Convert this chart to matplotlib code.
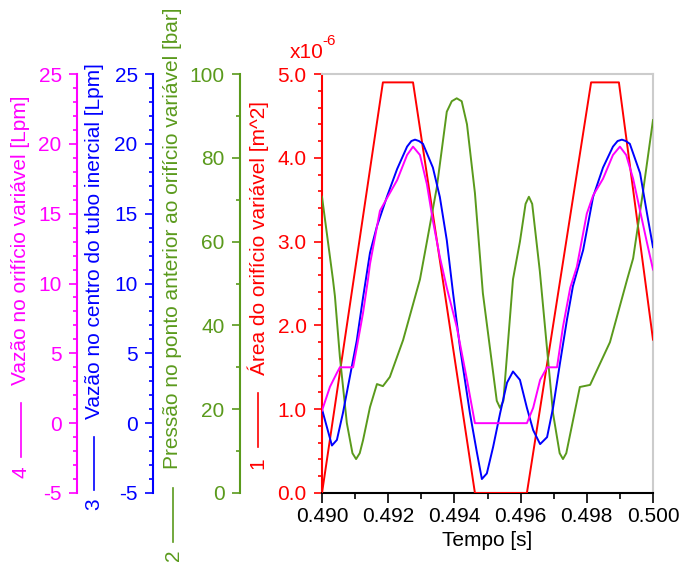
import matplotlib
matplotlib.use("Agg")
import matplotlib.pyplot as plt
from matplotlib.lines import Line2D
from matplotlib.ticker import MultipleLocator, FormatStrFormatter

plt.rcParams['font.family'] = ['Liberation Sans', 'DejaVu Sans']

# ---- data ----
t_area = [0.4900, 0.49184, 0.49275, 0.49462, 0.49619, 0.49813, 0.49897, 0.5000]
area = [0.0, 4.9, 4.9, 0.0, 0.0, 4.9, 4.9, 1.83]  # x1e-6 m^2

t_press = [0.4900, 0.49033, 0.49039, 0.49054, 0.49075, 0.49092, 0.49103, 0.49114,
           0.49124, 0.49145, 0.49166, 0.49184, 0.49205, 0.49245, 0.49296, 0.49317,
           0.49347, 0.49377, 0.49392, 0.49407, 0.49422, 0.49438, 0.49462, 0.49486,
           0.49528, 0.49538, 0.49548, 0.49577, 0.49598, 0.49615, 0.49625, 0.49635,
           0.49658, 0.49698, 0.49718, 0.49728, 0.49738, 0.49779, 0.49810, 0.49870,
           0.49922, 0.49940, 0.49970, 0.5000]
press = [70.7, 51.0, 47.0, 32.5, 16.7, 9.5, 8.1, 9.5,
         12.6, 20.5, 26.0, 25.5, 27.7, 36.5, 51.0, 60.0,
         73.0, 91.0, 93.5, 94.2, 93.5, 88.0, 71.6, 47.7,
         22.0, 20.3, 22.0, 51.0, 60.0, 69.0, 70.7, 69.0,
         53.0, 19.0, 9.5, 8.1, 9.5, 25.3, 25.8, 36.0,
         51.0, 56.0, 72.0, 89.0]

t_qc = [0.4900, 0.4903, 0.49045, 0.49063, 0.49084, 0.49105, 0.49124, 0.49145,
        0.49166, 0.49196, 0.49227, 0.49257, 0.49270, 0.49281, 0.49293, 0.49305,
        0.49335, 0.49356, 0.49377, 0.49396, 0.49417, 0.49447, 0.49468, 0.49483,
        0.49498, 0.49517, 0.49538, 0.49559, 0.49577, 0.49598, 0.49619, 0.49638,
        0.49659, 0.49680, 0.49698, 0.49719, 0.49740, 0.49758, 0.49789, 0.49819,
        0.49849, 0.49879, 0.49893, 0.49906, 0.49918, 0.49930, 0.49961, 0.49982,
        0.5000]
qc = [1.0, -1.6, -1.2, 0.7, 3.3, 5.9, 9.0, 12.2,
      14.1, 16.2, 18.2, 19.8, 20.2, 20.3, 20.2, 20.0,
      18.3, 16.2, 13.1, 9.3, 5.4, 0.7, -2.1, -4.0,
      -3.6, -1.7, 0.7, 2.9, 3.7, 3.1, 1.1, -0.5,
      -1.5, -1.0, 1.1, 4.3, 7.4, 9.8, 12.4, 16.2,
      18.3, 19.8, 20.2, 20.3, 20.2, 20.0, 17.9, 15.0,
      12.6]

t_qo = [0.4900, 0.49024, 0.49045, 0.49054, 0.49094, 0.49105, 0.49124, 0.49139,
        0.49145, 0.49175, 0.49196, 0.49227, 0.49257, 0.49275, 0.49296, 0.49317,
        0.49335, 0.49356, 0.49377, 0.49407, 0.49438, 0.49462, 0.49619, 0.49638,
        0.49659, 0.49680, 0.49710, 0.49728, 0.49750, 0.49770, 0.49800, 0.49819,
        0.49849, 0.49879, 0.49900, 0.49919, 0.49940, 0.49961, 0.49982, 0.5000]
qo = [0.9, 2.6, 3.6, 4.0, 4.0, 5.4, 7.9, 10.3,
      11.4, 15.2, 16.1, 17.4, 19.2, 19.8, 19.2, 17.1,
      14.5, 11.9, 9.7, 6.9, 3.1, 0.0, 0.0, 1.1,
      3.1, 4.0, 4.0, 6.9, 9.7, 11.2, 15.0, 16.3,
      17.5, 19.2, 19.8, 19.2, 17.5, 15.2, 12.9, 11.0]

x_ticks = [0.490, 0.492, 0.494, 0.496, 0.498, 0.500]

RED = '#ff0000'
GREEN = '#5a9a1c'
BLUE = '#0000ff'
MAG = '#ff00ff'
FS = 15

W, H = 683, 563
fig = plt.figure(figsize=(W / 100, H / 100), dpi=100)
L, R, T, B = 322, 653, 74, 493
ax = fig.add_axes([L / W, 1 - B / H, (R - L) / W, (B - T) / H])

ax_g = ax.twinx()
ax_b = ax.twinx()
ax_m = ax.twinx()

def style_axis(a, color, offset_px, lim, major, minor, fmt):
    a.set_ylim(*lim)
    a.yaxis.set_major_locator(MultipleLocator(major))
    a.yaxis.set_minor_locator(MultipleLocator(minor))
    a.yaxis.set_major_formatter(FormatStrFormatter(fmt))
    a.yaxis.set_ticks_position('left')
    a.yaxis.set_label_position('left')
    for s in ['top', 'right', 'bottom']:
        a.spines[s].set_visible(False)
    a.spines['left'].set_visible(True)
    a.spines['left'].set_position(('outward', offset_px * 0.72))
    a.spines['left'].set_color(color)
    a.spines['left'].set_linewidth(1.5)
    a.tick_params(axis='y', which='major', direction='out', length=6, width=1.2,
                  colors=color, labelsize=FS, pad=5)
    a.tick_params(axis='y', which='minor', direction='out', length=3, width=1.2,
                  colors=color)
    a.patch.set_visible(False)

# main (red) axis
ax.set_xlim(0.490, 0.500)
ax.set_ylim(0, 5.0)
ax.yaxis.set_major_locator(MultipleLocator(1.0))
ax.yaxis.set_minor_locator(MultipleLocator(0.2))
ax.yaxis.set_major_formatter(FormatStrFormatter('%.1f'))
ax.set_xticks(x_ticks)
ax.xaxis.set_minor_locator(MultipleLocator(0.001))
ax.xaxis.set_major_formatter(FormatStrFormatter('%.3f'))
ax.tick_params(axis='y', which='major', direction='out', length=6, width=1.2,
               colors=RED, labelsize=FS, pad=5)
ax.tick_params(axis='y', which='minor', direction='out', length=3, width=1.2, colors=RED)
ax.tick_params(axis='x', which='major', direction='out', length=7, width=1.2,
               colors='black', labelsize=FS, pad=3)
ax.tick_params(axis='x', which='minor', direction='out', length=4, width=1.2, colors='black')
ax.spines['left'].set_color(RED)
ax.spines['left'].set_linewidth(1.5)
ax.spines['bottom'].set_color('black')
ax.spines['bottom'].set_linewidth(1.5)
ax.spines['top'].set_color('#cccccc')
ax.spines['right'].set_color('#cccccc')
ax.spines['top'].set_linewidth(1.5)
ax.spines['right'].set_linewidth(1.5)
ax.set_xlabel('Tempo [s]', fontsize=FS, labelpad=4)

style_axis(ax_g, GREEN, L - 240, (0, 100), 20, 10, '%d')
style_axis(ax_b, BLUE, L - 153, (-5, 25), 5, 1, '%d')
style_axis(ax_m, MAG, L - 77, (-5, 25), 5, 1, '%d')

lw = 1.4
ax.plot(t_area, area, color=RED, lw=lw, zorder=3)
ax_g.plot(t_press, press, color=GREEN, lw=lw)
ax_m.plot(t_qo, qo, color=MAG, lw=lw)
ax_b.plot(t_qc, qc, color=BLUE, lw=lw)

# rotated labels with legend line and number
def px(x, y):
    return x / W, 1 - y / H

def side_label(text, color, x, y_text_bottom, y_line0, y_line1, num, y_num):
    fig.text(*px(x, y_text_bottom), text, rotation=90, color=color, fontsize=FS,
             ha='left', va='center', rotation_mode='anchor')
    fig.add_artist(Line2D([x / W, x / W], [1 - y_line1 / H, 1 - y_line0 / H],
                          color=color, lw=1.2, transform=fig.transFigure))
    fig.text(*px(x, y_num), num, rotation=90, color=color, fontsize=FS,
             ha='center', va='center', rotation_mode='anchor')

side_label('Vazão no orifício variável [Lpm]', MAG, 21, 385, 403, 457, '4', 472)
side_label('Vazão no centro do tubo inercial [Lpm]', BLUE, 94, 419, 437, 490, '3', 504)
side_label('Pressão no ponto anterior ao orifício variável [bar]', GREEN, 173, 469, 488, 542, '2', 555)
side_label('Área do orifício variável [m^2]', RED, 258, 375, 393, 447, '1', 463)

fig.text(*px(290, 58), 'x10', color=RED, fontsize=FS, ha='left', va='baseline')
fig.text(*px(322, 45), '-6', color=RED, fontsize=11, ha='left', va='baseline')

fig.savefig('out.png', dpi=100)
